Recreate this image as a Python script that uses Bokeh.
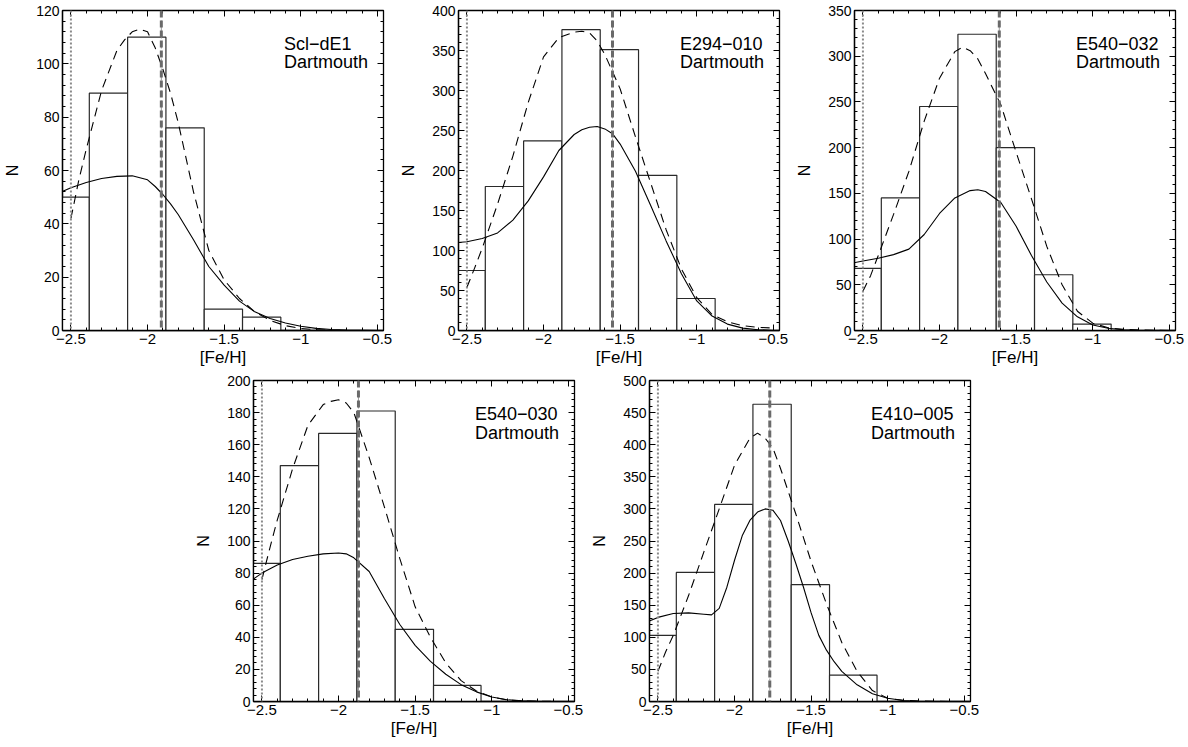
import numpy as np
from bokeh.plotting import figure
from bokeh.layouts import row, column, Spacer
from bokeh.models import (Range1d, FixedTicker, LinearAxis, Label, Span,
                          CustomJSTickFormatter)
from bokeh.embed import file_html
from bokeh.resources import INLINE

# ---------------- data ----------------
names = ["Scl\u2212dE1", "E294\u2212010", "E540\u2212032", "E540\u2212030", "E410\u2212005"]
model_name = "Dartmouth"
y_max = [120, 400, 350, 200, 500]
y_step = [20, 50, 50, 20, 50]
x_ticks = [-2.5, -2.0, -1.5, -1.0, -0.5]
x_tick_labels = ["\u22122.5", "\u22122", "\u22121.5", "\u22121", "\u22120.5"]

# histogram bin edges and counts
edges_1 = [-2.63, -2.38, -2.13, -1.88, -1.63, -1.38, -1.13]
counts_1 = [50, 89, 110, 76, 8, 5]
edges_2 = [-2.63, -2.38, -2.13, -1.88, -1.63, -1.38, -1.13, -0.88]
counts_2 = [75, 180, 237, 376, 351, 194, 40]
edges_3 = [-2.63, -2.38, -2.13, -1.88, -1.63, -1.38, -1.13, -0.88]
counts_3 = [68, 145, 245, 324, 200, 61, 7]
edges_4 = [-2.63, -2.38, -2.13, -1.88, -1.63, -1.38, -1.07]
counts_4 = [86, 147, 167, 181, 45, 10]
edges_5 = [-2.63, -2.38, -2.13, -1.88, -1.63, -1.38, -1.07]
counts_5 = [103, 201, 307, 463, 182, 41]

# mean [Fe/H] (thick dashed line) and lower metallicity limit (dotted line)
mean_feh = [-1.91, -1.55, -1.61, -1.87, -1.77]
feh_limit = -2.5

# dashed curves (Gaussian model)
dash_x_1 = [-2.5, -2.45, -2.4, -2.3, -2.2, -2.15, -2.1, -2.05, -2.0, -1.95, -1.9, -1.85, -1.8, -1.7, -1.6, -1.5, -1.4, -1.3, -1.2, -1.1, -1.0, -0.9, -0.8, -0.7, -0.5]
dash_y_1 = [42, 56, 68, 90, 105, 109, 112, 113, 112, 106, 98, 89, 78, 52, 30, 19, 12, 7, 3.8, 1.8, 0.8, 0.3, 0.1, 0, 0]
dash_x_2 = [-2.5, -2.45, -2.4, -2.3, -2.2, -2.1, -2.0, -1.9, -1.8, -1.75, -1.7, -1.65, -1.6, -1.5, -1.4, -1.3, -1.2, -1.1, -1.0, -0.9, -0.8, -0.7, -0.6, -0.5]
dash_y_2 = [54, 78, 103, 158, 218, 285, 342, 366, 373, 374, 372, 362, 345, 302, 242, 184, 126, 77, 41, 20, 11, 6, 4, 3]
dash_x_3 = [-2.5, -2.45, -2.4, -2.3, -2.2, -2.1, -2.0, -1.9, -1.85, -1.8, -1.75, -1.7, -1.6, -1.5, -1.4, -1.3, -1.2, -1.1, -1.0, -0.9, -0.8, -0.7, -0.5]
dash_y_3 = [43, 60, 82, 127, 174, 229, 276, 305, 310, 306, 297, 281, 247, 195, 144, 92, 50, 21, 8, 3, 1.2, 0.5, 0]
dash_x_4 = [-2.5, -2.45, -2.4, -2.3, -2.2, -2.1, -2.05, -2.0, -1.95, -1.9, -1.8, -1.7, -1.6, -1.5, -1.4, -1.3, -1.2, -1.1, -1.0, -0.9, -0.8, -0.7, -0.5]
dash_y_4 = [76, 95, 113, 145, 172, 185, 187, 188, 186, 180, 152, 121, 89, 59, 40, 24, 13, 6.5, 2.8, 1, 0.4, 0.1, 0]
dash_x_5 = [-2.5, -2.45, -2.4, -2.3, -2.2, -2.1, -2.0, -1.9, -1.85, -1.8, -1.75, -1.7, -1.6, -1.5, -1.4, -1.3, -1.2, -1.1, -1.0, -0.9, -0.8, -0.7, -0.6, -0.5]
dash_y_5 = [47, 77, 103, 165, 233, 300, 368, 410, 418, 410, 395, 363, 292, 218, 152, 92, 47, 17, 5, 2, 0.8, 0.2, 0, 0]

# solid curves (smoothed distribution)
sol_x_1 = [-2.56, -2.5, -2.4, -2.3, -2.2, -2.1, -2.0, -1.95, -1.9, -1.85, -1.8, -1.7, -1.6, -1.5, -1.4, -1.3, -1.2, -1.1, -1.0, -0.9, -0.8, -0.7, -0.6, -0.5]
sol_y_1 = [52, 53.5, 55.5, 57, 57.8, 58, 56.5, 54, 51, 47.5, 43.5, 34, 24, 17, 11, 7, 4.5, 2.8, 1.6, 0.8, 0.4, 0.2, 0.1, 0]
sol_x_2 = [-2.56, -2.5, -2.4, -2.3, -2.2, -2.1, -2.0, -1.9, -1.8, -1.75, -1.7, -1.65, -1.6, -1.55, -1.5, -1.4, -1.3, -1.2, -1.1, -1.0, -0.9, -0.8, -0.7, -0.6, -0.5]
sol_y_2 = [110, 111, 115, 122, 138, 162, 192, 225, 245, 251, 254, 255, 252, 246, 233, 199, 156, 112, 71, 37, 18, 8, 3, 1, 0]
sol_x_3 = [-2.56, -2.5, -2.4, -2.3, -2.2, -2.1, -2.0, -1.9, -1.8, -1.75, -1.7, -1.6, -1.5, -1.4, -1.3, -1.2, -1.1, -1.0, -0.9, -0.8, -0.7, -0.5]
sol_y_3 = [74, 76, 79, 83, 89, 105, 128, 145, 153, 154, 152, 140, 114, 82, 53, 30, 15, 6, 2.5, 0.8, 0.2, 0]
sol_x_4 = [-2.56, -2.5, -2.4, -2.3, -2.2, -2.1, -2.0, -1.95, -1.9, -1.8, -1.7, -1.6, -1.5, -1.4, -1.3, -1.2, -1.1, -1.0, -0.9, -0.8, -0.7, -0.5]
sol_y_4 = [76, 80, 85, 88.5, 90.5, 92, 92.5, 92, 89.5, 81, 64, 48, 35, 25, 17, 10.5, 6, 2.8, 1.1, 0.4, 0.1, 0]
sol_x_5 = [-2.56, -2.5, -2.4, -2.3, -2.2, -2.15, -2.1, -2.05, -2.0, -1.95, -1.9, -1.85, -1.8, -1.75, -1.7, -1.65, -1.6, -1.55, -1.5, -1.45, -1.4, -1.35, -1.3, -1.2, -1.1, -1.0, -0.9, -0.8, -0.7, -0.5]
sol_y_5 = [125, 131, 137, 138, 136, 135, 145, 178, 220, 258, 282, 295, 300, 298, 282, 250, 215, 178, 138, 103, 80, 62, 47, 26, 12, 5, 1.5, 0.5, 0, 0]

panels = [
    (edges_1, counts_1, dash_x_1, dash_y_1, sol_x_1, sol_y_1),
    (edges_2, counts_2, dash_x_2, dash_y_2, sol_x_2, sol_y_2),
    (edges_3, counts_3, dash_x_3, dash_y_3, sol_x_3, sol_y_3),
    (edges_4, counts_4, dash_x_4, dash_y_4, sol_x_4, sol_y_4),
    (edges_5, counts_5, dash_x_5, dash_y_5, sol_x_5, sol_y_5),
]

# ---------------- styling ----------------
FONT = "Liberation Sans"
X_LO, X_HI = -2.555, -0.46
FRAME_W = 321

x_fmt = CustomJSTickFormatter(args=dict(tvals=x_ticks, tlabels=x_tick_labels), code="""
    for (let i = 0; i < tvals.length; i++) {
        if (Math.abs(tvals[i] - tick) < 1e-6) { return tlabels[i]; }
    }
    return "";
""")
blank_fmt = CustomJSTickFormatter(code="return '';")
x_minor = [round(v, 2) for v in np.arange(-2.5, -0.45, 0.1)]


def make_panel(i, frame_h, top_b, bot_b):
    edges, counts, dx, dy, sx, sy = panels[i]
    ymax = y_max[i]
    p = figure(frame_width=FRAME_W, frame_height=frame_h,
               x_range=Range1d(X_LO, X_HI), y_range=Range1d(0, ymax),
               output_backend="svg", toolbar_location=None,
               min_border_left=62, min_border_right=13,
               min_border_top=top_b, min_border_bottom=bot_b,
               background_fill_color="white", border_fill_color="white")
    p.grid.visible = False
    p.outline_line_color = "black"
    p.outline_line_width = 1.3

    y_ticks = list(range(0, ymax + 1, y_step[i]))
    y_minor = [float(v) for v in np.arange(0, ymax + 0.01, y_step[i] / 5.0)]
    xt = FixedTicker(ticks=x_ticks, minor_ticks=x_minor)
    yt = FixedTicker(ticks=y_ticks, minor_ticks=y_minor)

    xa = p.xaxis[0]
    xa.ticker = xt
    xa.formatter = x_fmt
    xa.axis_label = "[Fe/H]"
    ya = p.yaxis[0]
    ya.ticker = yt
    ya.axis_label = "N"

    for ax in (xa, ya):
        ax.axis_line_color = "black"
        ax.axis_line_width = 1.3
        ax.major_tick_in = 6
        ax.major_tick_out = 0
        ax.minor_tick_in = 3
        ax.minor_tick_out = 0
        ax.major_tick_line_color = "black"
        ax.minor_tick_line_color = "black"
        ax.major_label_text_font = FONT
        ax.major_label_text_color = "black"
        ax.axis_label_text_font = FONT
        ax.axis_label_text_font_style = "normal"
        ax.axis_label_text_color = "black"
    xa.major_label_text_font_size = "15px"
    xa.axis_label_text_font_size = "17px"
    xa.major_label_standoff = 3
    xa.axis_label_standoff = 1
    ya.major_label_text_font_size = "14px"
    ya.axis_label_text_font_size = "16px"
    ya.major_label_standoff = 3
    ya.axis_label_standoff = 12

    # mirrored ticks on top and right
    for loc, tk in (("above", xt), ("right", yt)):
        ax = LinearAxis(ticker=tk, formatter=blank_fmt)
        ax.axis_line_color = None
        ax.major_tick_in = 6
        ax.major_tick_out = 0
        ax.minor_tick_in = 3
        ax.minor_tick_out = 0
        ax.major_label_standoff = 0
        ax.major_label_text_font_size = "1px"
        p.add_layout(ax, loc)

    # histogram
    p.quad(left=edges[:-1], right=edges[1:], bottom=0, top=counts,
           fill_color="white", line_color="#2a2a2a", line_width=1.2)

    # reference lines
    p.add_layout(Span(location=feh_limit, dimension="height",
                      line_color="#8a8a8a", line_width=2, line_dash="2 2"))
    p.add_layout(Span(location=mean_feh[i], dimension="height",
                      line_color="#9a9a9a", line_width=1, line_dash="dashdot"))
    p.add_layout(Span(location=mean_feh[i], dimension="height",
                      line_color="#6a6a6a", line_width=3, line_dash="7 3"))

    # curves
    p.line(sx, sy, line_color="black", line_width=1.1)
    p.line(dx, dy, line_color="black", line_width=1.1, line_dash="9 6")

    # annotation text
    for k, txt in enumerate((names[i], model_name)):
        p.add_layout(Label(x=-1.11, y=ymax * (0.895 - 0.057 * k), text=txt,
                           text_font=FONT, text_font_size="18px",
                           text_color="black", text_baseline="middle",
                           text_align="left"))
    return p


p1 = make_panel(0, 320, 10, 41)
p2 = make_panel(1, 320, 10, 41)
p3 = make_panel(2, 320, 10, 41)
p4 = make_panel(3, 321, 9, 44)
p5 = make_panel(4, 321, 9, 44)

layout = column(row(p1, p2, p3),
                row(Spacer(width=191, height=374), p4, p5))

open("out.html", "w").write(file_html(layout, INLINE))
